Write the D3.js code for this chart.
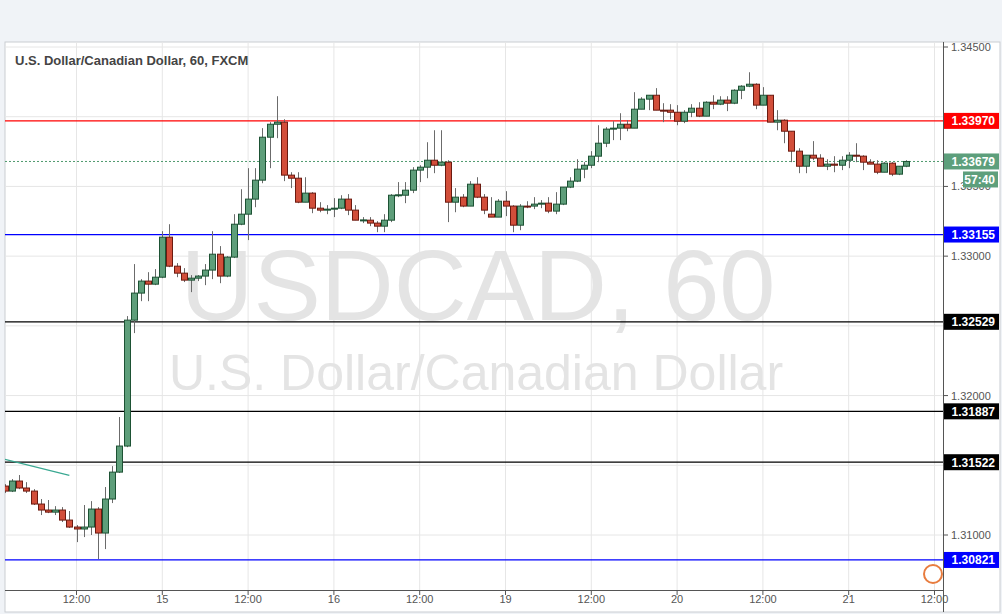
<!DOCTYPE html>
<html><head><meta charset="utf-8">
<script src="https://d3js.org/d3.v7.min.js"></script>
<style>body{margin:0;background:#fff;font-family:"Liberation Sans",Arial,sans-serif}</style>
</head><body><svg id="c" width="1002" height="614"></svg>
<script>
const opens=[1.31351,1.31315,1.31387,1.31337,1.31315,1.31222,1.31179,1.31164,1.31179,1.31107,1.31057,1.31043,1.31057,1.31186,1.31014,1.31258,1.31451,1.31638,1.32541,1.32735,1.32821,1.32799,1.32849,1.33136,1.32928,1.32878,1.32828,1.32842,1.32857,1.32900,1.33014,1.32857,1.32993,1.33229,1.33301,1.33409,1.33545,1.33853,1.33946,1.33961,1.33581,1.33559,1.33387,1.33452,1.33344,1.33330,1.33337,1.33344,1.33409,1.33330,1.33258,1.33258,1.33237,1.33215,1.33258,1.33437,1.33437,1.33473,1.33617,1.33638,1.33688,1.33652,1.33674,1.33387,1.33423,1.33359,1.33516,1.33423,1.33301,1.33280,1.33394,1.33359,1.33222,1.33359,1.33359,1.33373,1.33380,1.33323,1.33373,1.33495,1.33538,1.33624,1.33652,1.33717,1.33810,1.33911,1.33918,1.33946,1.33918,1.34054,1.34126,1.34154,1.34047,1.34047,1.34032,1.33968,1.34032,1.34061,1.34004,1.34104,1.34090,1.34119,1.34097,1.34190,1.34219,1.34233,1.34083,1.34154,1.33961,1.33975,1.33896,1.33753,1.33645,1.33724,1.33703,1.33645,1.33660,1.33652,1.33688,1.33724,1.33717,1.33674,1.33660,1.33602,1.33667,1.33588,1.33645];
const closes=[1.31315,1.31387,1.31337,1.31315,1.31222,1.31179,1.31164,1.31179,1.31107,1.31057,1.31043,1.31057,1.31186,1.31014,1.31258,1.31451,1.31638,1.32541,1.32735,1.32821,1.32799,1.32849,1.33136,1.32928,1.32878,1.32828,1.32842,1.32857,1.32900,1.33014,1.32857,1.32993,1.33229,1.33301,1.33409,1.33545,1.33853,1.33946,1.33961,1.33581,1.33559,1.33387,1.33452,1.33344,1.33330,1.33337,1.33344,1.33409,1.33330,1.33258,1.33260,1.33237,1.33215,1.33258,1.33437,1.33440,1.33473,1.33617,1.33638,1.33688,1.33652,1.33674,1.33387,1.33423,1.33359,1.33516,1.33423,1.33330,1.33280,1.33394,1.33359,1.33222,1.33359,1.33355,1.33373,1.33380,1.33323,1.33373,1.33495,1.33538,1.33624,1.33652,1.33717,1.33810,1.33911,1.33918,1.33946,1.33918,1.34054,1.34126,1.34154,1.34047,1.34045,1.34032,1.33968,1.34032,1.34061,1.34004,1.34104,1.34090,1.34119,1.34097,1.34190,1.34219,1.34233,1.34083,1.34154,1.33961,1.33975,1.33896,1.33753,1.33645,1.33724,1.33703,1.33645,1.33660,1.33652,1.33688,1.33724,1.33717,1.33674,1.33660,1.33602,1.33667,1.33588,1.33645,1.33679];
const highs=[1.31365,1.31401,1.31430,1.31379,1.31329,1.31258,1.31251,1.31207,1.31200,1.31172,1.31071,1.31215,1.31243,1.31200,1.31344,1.31494,1.31846,1.32570,1.32943,1.32835,1.32885,1.32907,1.33179,1.33229,1.32950,1.32914,1.32864,1.32864,1.32943,1.33179,1.33072,1.33000,1.33301,1.33480,1.33631,1.33631,1.33918,1.33961,1.34147,1.33982,1.33602,1.33602,1.33566,1.33459,1.33387,1.33366,1.33416,1.33437,1.33445,1.33366,1.33280,1.33280,1.33251,1.33301,1.33445,1.33531,1.33531,1.33638,1.33652,1.33817,1.33903,1.33903,1.33688,1.33488,1.33445,1.33538,1.33566,1.33445,1.33423,1.33409,1.33466,1.33366,1.33373,1.33394,1.33423,1.33402,1.33423,1.33459,1.33495,1.33566,1.33695,1.33674,1.33753,1.33939,1.33925,1.33968,1.34025,1.33975,1.34176,1.34140,1.34154,1.34205,1.34097,1.34090,1.34083,1.34047,1.34090,1.34104,1.34111,1.34154,1.34147,1.34147,1.34197,1.34226,1.34319,1.34240,1.34212,1.34154,1.34047,1.33982,1.33896,1.33774,1.33724,1.33825,1.33731,1.33695,1.33717,1.33717,1.33746,1.33810,1.33724,1.33695,1.33688,1.33674,1.33674,1.33645,1.33688];
const lows=[1.31301,1.31308,1.31329,1.31301,1.31215,1.31143,1.31157,1.31143,1.31093,1.31050,1.30949,1.30985,1.31000,1.30827,1.30899,1.31229,1.31445,1.31630,1.32448,1.32677,1.32677,1.32792,1.32842,1.32921,1.32849,1.32814,1.32742,1.32821,1.32792,1.32835,1.32806,1.32849,1.32986,1.33222,1.33115,1.33351,1.33523,1.33631,1.33846,1.33538,1.33488,1.33380,1.33387,1.33308,1.33315,1.33301,1.33280,1.33337,1.33294,1.33258,1.33237,1.33215,1.33172,1.33172,1.33244,1.33423,1.33380,1.33452,1.33531,1.33559,1.33595,1.33645,1.33244,1.33315,1.33351,1.33359,1.33416,1.33301,1.33280,1.33280,1.33287,1.33172,1.33186,1.33344,1.33337,1.33344,1.33308,1.33301,1.33366,1.33488,1.33531,1.33559,1.33631,1.33674,1.33782,1.33832,1.33832,1.33896,1.33918,1.34054,1.34047,1.34047,1.33961,1.33982,1.33939,1.33954,1.33997,1.33997,1.34004,1.34054,1.34083,1.34040,1.34090,1.34126,1.34212,1.34054,1.34083,1.33961,1.33903,1.33810,1.33674,1.33595,1.33595,1.33688,1.33645,1.33617,1.33602,1.33617,1.33631,1.33674,1.33617,1.33660,1.33588,1.33602,1.33574,1.33581,1.33638];
const xLabels=[[10,"12:00"],[22,"15"],[34,"12:00"],[46,"16"],[58,"12:00"],[70,"19"],[82,"12:00"],[94,"20"],[106,"12:00"],[118,"21"],[130,"12:00"]];
const yTicks=[1.345,1.340,1.335,1.330,1.325,1.320,1.315,1.310];
const levels=[[1.33970,"#ff0000","1.33970"],[1.33155,"#0000ff","1.33155"],[1.32529,"#000000","1.32529"],[1.31887,"#000000","1.31887"],[1.31522,"#000000","1.31522"],[1.30821,"#0000ff","1.30821"]];
const lastPrice=1.33679, countdown="57:40";
const trend=[[0,1.31542],[9,1.31427]];

const svg=d3.select("#c");
const L=5,R=943,T=42,B=590;
const x=d3.scaleLinear().domain([0,130]).range([5,934.5]);
const y=d3.scaleLinear().domain([1.31,1.345]).range([535,47]);
svg.append("rect").attr("x",0).attr("y",0).attr("width",1002).attr("height",614).attr("fill","#f0f3f7");
svg.append("rect").attr("x",L).attr("y",T).attr("width",995).attr("height",570).attr("fill","#fff").attr("stroke","#c9cdd2");
svg.append("clipPath").attr("id","cp").append("rect").attr("x",L).attr("y",T).attr("width",R-L).attr("height",B-T);
const g=svg.append("g").attr("clip-path","url(#cp)");
yTicks.forEach(t=>g.append("line").attr("x1",L).attr("x2",R).attr("y1",y(t)).attr("y2",y(t)).attr("stroke","#e6e6e6"));
xLabels.forEach(d=>g.append("line").attr("x1",x(d[0])).attr("x2",x(d[0])).attr("y1",T).attr("y2",B).attr("stroke","#e6e6e6"));
g.append("text").attr("x",478).attr("y",320).attr("text-anchor","middle").attr("font-size",101).attr("fill","#e4e4e4").text("USDCAD, 60");
g.append("text").attr("x",476).attr("y",390).attr("text-anchor","middle").attr("font-size",50).attr("fill","#e4e4e4").text("U.S. Dollar/Canadian Dollar");
levels.forEach(l=>g.append("line").attr("x1",L).attr("x2",R).attr("y1",y(l[0])).attr("y2",y(l[0])).attr("stroke",l[1]).attr("stroke-width",1.2));
g.append("line").attr("x1",L).attr("x2",R).attr("y1",y(lastPrice)).attr("y2",y(lastPrice)).attr("stroke","#4f9a6e").attr("stroke-dasharray","2,2");
g.append("line").attr("x1",x(trend[0][0])).attr("x2",x(trend[1][0])).attr("y1",y(trend[0][1])).attr("y2",y(trend[1][1])).attr("stroke","#3aa892").attr("stroke-width",1.3);
const data=opens.map((o,i)=>({i,o,c:closes[i],h:highs[i],l:lows[i]}));
const cg=g.selectAll("g.k").data(data).join("g");
cg.append("line").attr("x1",d=>Math.round(x(d.i))+0.5).attr("x2",d=>Math.round(x(d.i))+0.5).attr("y1",d=>y(d.h)).attr("y2",d=>y(d.l)).attr("stroke","#6b6b6b");
cg.append("rect").attr("x",d=>Math.round(x(d.i))-2.5).attr("width",6)
 .attr("y",d=>y(Math.max(d.o,d.c))).attr("height",d=>Math.max(1,Math.abs(y(d.o)-y(d.c))))
 .attr("fill",d=>d.c>=d.o?"#5e9e7a":"#d24e3a").attr("stroke",d=>d.c>=d.o?"#1d5234":"#6b1a10").attr("stroke-width",1);
svg.append("line").attr("x1",R+0.5).attr("x2",R+0.5).attr("y1",T).attr("y2",612).attr("stroke","#555");
svg.append("line").attr("x1",L).attr("x2",R).attr("y1",B+0.5).attr("y2",B+0.5).attr("stroke","#555");
yTicks.forEach(t=>{svg.append("line").attr("x1",R).attr("x2",R+5).attr("y1",y(t)).attr("y2",y(t)).attr("stroke","#555");
 if(levels.some(l=>Math.abs(y(l[0])-y(t))<14)) return;
 svg.append("text").attr("x",951).attr("y",y(t)+4).attr("font-size",11).attr("fill","#555").text(t.toFixed(5));});
xLabels.forEach(d=>{svg.append("line").attr("x1",x(d[0])).attr("x2",x(d[0])).attr("y1",B).attr("y2",B+5).attr("stroke","#555");
 svg.append("text").attr("x",x(d[0])).attr("y",603).attr("text-anchor","middle").attr("font-size",11).attr("fill","#555").text(d[1]);});
function tag(v,col,txt){const yy=y(v);
 svg.append("rect").attr("x",R+1).attr("y",yy-8).attr("width",55).attr("height",16).attr("fill",col);
 svg.append("text").attr("x",R+52).attr("y",yy+4.5).attr("text-anchor","end").attr("font-size",12).attr("font-weight","bold").attr("fill","#fff").text(txt);}
levels.forEach(l=>tag(l[0],l[1],l[2]));
tag(lastPrice,"#5d9f7c",lastPrice.toFixed(5));
svg.append("rect").attr("x",963).attr("y",y(lastPrice)+10).attr("width",35).attr("height",16).attr("fill","#5d9f7c");
svg.append("text").attr("x",995).attr("y",y(lastPrice)+22.5).attr("text-anchor","end").attr("font-size",12).attr("font-weight","bold").attr("fill","#fff").text(countdown);
svg.append("text").attr("x",15).attr("y",65).attr("font-size",13).attr("font-weight","bold").attr("fill","#444").text("U.S. Dollar/Canadian Dollar, 60, FXCM");
svg.append("circle").attr("cx",933).attr("cy",574).attr("r",9).attr("fill","#fff").attr("stroke","#e87c3e").attr("stroke-width",2);
</script></body></html>
